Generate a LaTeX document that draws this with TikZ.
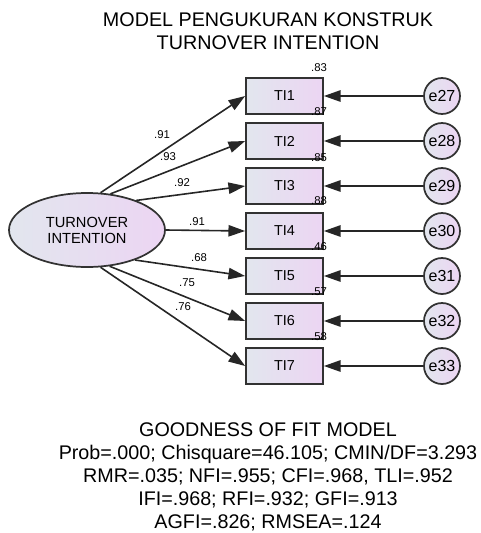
\documentclass[tikz,border=0pt]{standalone}
\usepackage{fontspec}
\setmainfont{Liberation Sans}
\usepackage{tikz}
\usetikzlibrary{arrows.meta}
\usetikzlibrary{shapes}
\definecolor{GreyBlue}{RGB}{226,230,238}
\definecolor{PaleLilac}{RGB}{236,213,243}
\definecolor{EdgeGrey}{RGB}{50,50,50}

\begin{document}
\begin{tikzpicture}[x=0.75pt,y=-0.75pt,
		obs/.style={draw=EdgeGrey, line width=1.3pt, rectangle, minimum width=57.75pt, minimum height=27pt, inner sep=0pt, left color=GreyBlue, right color=PaleLilac, font=\fontsize{10.8}{12}\selectfont},
		lat/.style={draw=EdgeGrey, line width=1.3pt, ellipse, minimum width=117pt, minimum height=55.5pt, inner sep=0pt, left color=GreyBlue, right color=PaleLilac, align=center, font=\fontsize{11}{12}\selectfont},
		err/.style={draw=EdgeGrey, line width=1.3pt, circle, minimum size=27pt, inner sep=0pt, left color=GreyBlue, right color=PaleLilac, font=\fontsize{12}{12}\selectfont},
		coef/.style={inner sep=0pt, font=\fontsize{8.5}{9}\selectfont},
		reg/.style={-{Triangle[length=12.5pt,width=8.5pt]}, line width=1.2pt, draw=black!85},
		heading/.style={inner sep=0pt, align=center, font=\fontsize{14.8}{17.25}\selectfont}]
		\useasboundingbox (0,0) rectangle (481,533);
		
		\node[heading] (title) at (268,31.5) {MODEL PENGUKURAN KONSTRUK\\TURNOVER INTENTION};
		
		\node[lat] (TO) at (87,230) {TURNOVER\\INTENTION};
		
		\node[obs] (TI1) at (284.5,96) {TI1};
		\node[obs] (TI2) at (284.5,141) {TI2};
		\node[obs] (TI3) at (284.5,186) {TI3};
		\node[obs] (TI4) at (284.5,231) {TI4};
		\node[obs] (TI5) at (284.5,276) {TI5};
		\node[obs] (TI6) at (284.5,321) {TI6};
		\node[obs] (TI7) at (284.5,366) {TI7};
		
		\node[err] (e27) at (442,96) {e27};
		\node[err] (e28) at (442,141) {e28};
		\node[err] (e29) at (442,186) {e29};
		\node[err] (e30) at (442,231) {e30};
		\node[err] (e31) at (442,276) {e31};
		\node[err] (e32) at (442,321) {e32};
		\node[err] (e33) at (442,366) {e33};
		
		\draw[reg] (TO.70) -- (TI1.west);
		\draw[reg] (TO.57) -- (TI2.west);
		\draw[reg] (TO.31) -- (TI3.west);
		\draw[reg] (TO.0) -- (TI4.west);
		\draw[reg] (TO.-32) -- (TI5.west);
		\draw[reg] (TO.-58) -- (TI6.west);
		\draw[reg] (TO.-70) -- (TI7.west);
		
		\draw[reg] (e27) -- (TI1);
		\draw[reg] (e28) -- (TI2);
		\draw[reg] (e29) -- (TI3);
		\draw[reg] (e30) -- (TI4);
		\draw[reg] (e31) -- (TI5);
		\draw[reg] (e32) -- (TI6);
		\draw[reg] (e33) -- (TI7);
		
		\node[coef] (c1) at (162,135) {.91};
		\node[coef] (c2) at (168,157) {.93};
		\node[coef] (c3) at (182,183) {.92};
		\node[coef] (c4) at (197,222) {.91};
		\node[coef] (c5) at (199,258) {.68};
		\node[coef] (c6) at (187,283) {.75};
		\node[coef] (c7) at (183,307) {.76};
		
		\node[coef] (r1) at (319,68) {.83};
		\node[coef] (r2) at (319,112) {.87};
		\node[coef] (r3) at (319,158) {.85};
		\node[coef] (r4) at (319,201) {.88};
		\node[coef] (r5) at (319,247) {.46};
		\node[coef] (r6) at (319,292) {.57};
		\node[coef] (r7) at (319,337) {.58};
		
		\node[heading] (gof) at (268,476.5) {GOODNESS OF FIT MODEL\\Prob=.000; Chisquare=46.105; CMIN/DF=3.293\\RMR=.035; NFI=.955; CFI=.968, TLI=.952\\IFI=.968; RFI=.932; GFI=.913\\AGFI=.826; RMSEA=.124};
	\end{tikzpicture}
\end{document}
